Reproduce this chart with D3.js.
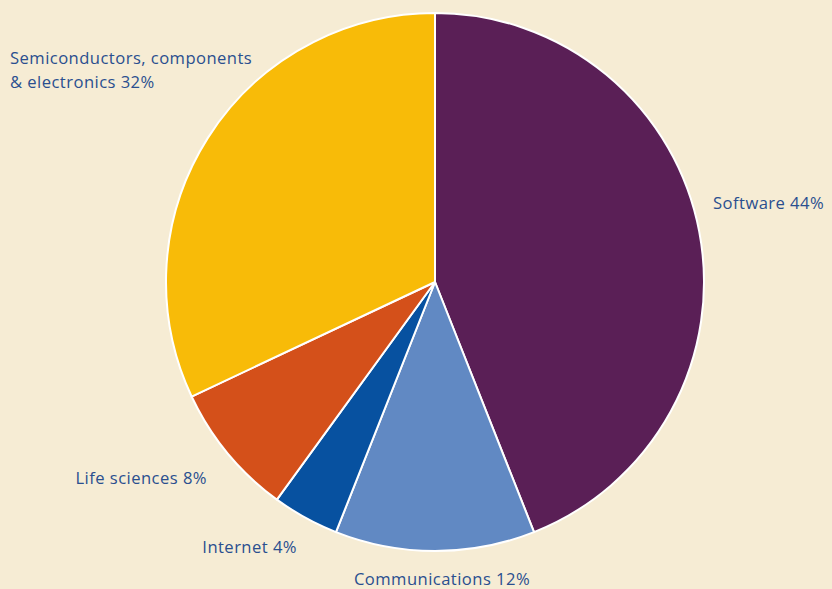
<!DOCTYPE html>
<html>
<head>
<meta charset="utf-8">
<script src="https://cdn.jsdelivr.net/npm/d3@7"></script>
<style>
  html, body { margin: 0; padding: 0; background: #f6ecd4; }
  svg { display: block; }
  .label { font-family: "Open Sans", "Noto Sans", sans-serif; font-size: 16.6px; letter-spacing: 0.45px; fill: #2a4f8f; }
</style>
</head>
<body>
<script>
// sectors, clockwise from 12 o'clock
var categories = ["Software", "Communications", "Internet", "Life sciences", "Semiconductors, components & electronics"];
var shares = [44, 12, 4, 8, 32];
var labelLines = [
    ["Software 44%"],
    ["Communications 12%"],
    ["Internet 4%"],
    ["Life sciences 8%"],
    ["Semiconductors, components", "& electronics 32%"]
];

var colors = ["#5a1f56", "#6189c3", "#0751a0", "#d4501a", "#f8bb08"];

// where each label sits, relative to the pie centre (layout only)
var labelPlace = [
    {dx: 278, dy: -73, anchor: "start"},
    {dx: 7, dy: 303, anchor: "middle"},
    {dx: -138, dy: 271, anchor: "end"},
    {dx: -228, dy: 202, anchor: "end"},
    {dx: -425, dy: -218, anchor: "start"}
];

var width = 832,
    height = 589,
    cx = 435,
    cy = 282,
    radius = 269;

var svg = d3.select("body")
    .append("svg")
    .attr("width", width)
    .attr("height", height);

svg.append("rect")
    .attr("width", width)
    .attr("height", height)
    .attr("fill", "#f6ecd4");

var pie = d3.pie().sort(null).value(function(d) { return d; });
var arc = d3.arc().innerRadius(0).outerRadius(radius);

var g = svg.append("g").attr("transform", "translate(" + cx + "," + cy + ")");

g.selectAll("path")
    .data(pie(shares))
    .enter()
    .append("path")
    .attr("d", arc)
    .attr("fill", function(d, i) { return colors[i]; })
    .attr("stroke", "#ffffff")
    .attr("stroke-width", 2)
    .attr("stroke-linejoin", "round");

var labels = g.selectAll("text.label")
    .data(categories)
    .enter()
    .append("text")
    .attr("class", "label")
    .attr("text-anchor", function(d, i) { return labelPlace[i].anchor; })
    .attr("x", function(d, i) { return labelPlace[i].dx; })
    .attr("y", function(d, i) { return labelPlace[i].dy; });

labels.each(function(d, i) {
    var t = d3.select(this);
    labelLines[i].forEach(function(line, k) {
        t.append("tspan")
            .attr("x", labelPlace[i].dx)
            .attr("dy", k === 0 ? 0 : 24)
            .text(line);
    });
});
</script>
</body>
</html>
